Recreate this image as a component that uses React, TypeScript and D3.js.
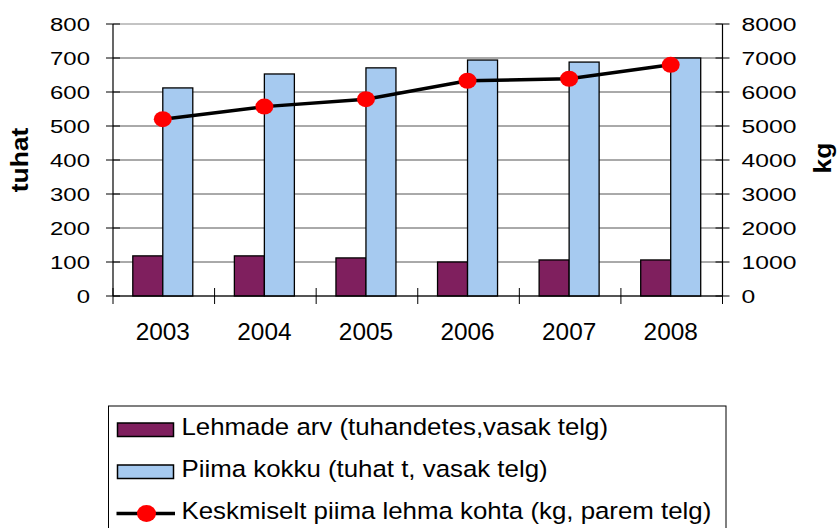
import * as d3 from "d3"

const years = ["2003", "2004", "2005", "2006", "2007", "2008"]
const cows = [118, 118, 112, 100, 106, 106]
const milkTotal = [612, 653, 671, 694, 688, 700]
const milkPerCow = [5200, 5570, 5790, 6330, 6390, 6800]
const leftTicks = [0, 100, 200, 300, 400, 500, 600, 700, 800]
const rightTicks = [0, 1000, 2000, 3000, 4000, 5000, 6000, 7000, 8000]

const legendLabels = [
  "Lehmade arv (tuhandetes,vasak telg)",
  "Piima kokku (tuhat t, vasak telg)",
  "Keskmiselt piima lehma kohta (kg, parem telg)",
]

const PURPLE = "#7f1f5e"
const BLUE = "#a6caf0"
const FONT = "'Liberation Sans', Arial, sans-serif"

// text helper, the source fonts render a bit wider than Liberation Sans
function SText(props: {
  x: number
  y: number
  sx?: number
  size: number
  anchor?: string
  weight?: string
  rotate?: number
  children: string
}) {
  const { x, y, sx = 1, size, anchor = "start", weight = "normal", rotate = 0 } = props
  return (
    <text
      transform={`translate(${x},${y}) rotate(${rotate}) scale(${sx},1)`}
      fontSize={size}
      textAnchor={anchor}
      fontWeight={weight}
      fontFamily={FONT}
      fill="#000"
    >
      {props.children}
    </text>
  )
}

export default function App() {
  const W = 839
  const H = 528
  const left = 113
  const right = 722.5
  const top = 24
  const bottom = 296

  const x = d3.scaleBand<string>().domain(years).range([left, right])
  const yL = d3.scaleLinear().domain([0, 800]).range([bottom, top])
  const yR = d3.scaleLinear().domain([0, 8000]).range([bottom, top])
  const barW = 30
  const center = (yr: string) => (x(yr) || 0) + x.bandwidth() / 2 - 1

  const line = d3
    .line<number>()
    .x((_, i) => center(years[i]))
    .y(d => yR(d))

  const legX = 108.5
  const legY = 406

  return (
    <svg
      width={W}
      height={H}
      style={{ position: "absolute", left: 0, top: 0, background: "#fff" }}
    >
      {/* gridlines */}
      {leftTicks.map(t => (
        <line
          key={"g" + t}
          x1={left}
          x2={right}
          y1={yL(t)}
          y2={yL(t)}
          stroke={t === 800 ? "#888" : "#555"}
          strokeWidth={1}
        />
      ))}

      {/* bars */}
      {years.map((yr, i) => (
        <g key={"b" + yr}>
          <rect
            x={center(yr) - barW}
            y={yL(cows[i])}
            width={barW}
            height={bottom - yL(cows[i])}
            fill={PURPLE}
            stroke="#000"
            strokeWidth={1.3}
          />
          <rect
            x={center(yr)}
            y={yL(milkTotal[i])}
            width={barW}
            height={bottom - yL(milkTotal[i])}
            fill={BLUE}
            stroke="#000"
            strokeWidth={1.3}
          />
        </g>
      ))}

      {/* axes */}
      <line x1={left} x2={left} y1={top} y2={bottom} stroke="#000" strokeWidth={1.2} />
      <line x1={right} x2={right} y1={top} y2={bottom} stroke="#000" strokeWidth={1.2} />
      <line x1={left} x2={right} y1={bottom} y2={bottom} stroke="#000" strokeWidth={1.2} />
      {leftTicks.map(t => (
        <g key={"lt" + t}>
          <line x1={left - 7} x2={left + 7} y1={yL(t)} y2={yL(t)} stroke="#000" strokeWidth={1} />
          <SText x={90} y={yL(t) + 7} size={19} sx={1.26} anchor="end">
            {String(t)}
          </SText>
        </g>
      ))}
      {rightTicks.map(t => (
        <g key={"rt" + t}>
          <line x1={right - 7} x2={right + 7} y1={yR(t)} y2={yR(t)} stroke="#000" strokeWidth={1} />
          <SText x={741.5} y={yR(t) + 7} size={19} sx={1.3}>
            {String(t)}
          </SText>
        </g>
      ))}
      {[...years.map(yr => x(yr) || 0), right].map((v, i) => (
        <line key={"xt" + i} x1={v} x2={v} y1={bottom - 8} y2={bottom + 8} stroke="#000" strokeWidth={1} />
      ))}
      {years.map(yr => (
        <SText key={"xl" + yr} x={center(yr)} y={340} size={23} sx={1.06} anchor="middle">
          {yr}
        </SText>
      ))}

      {/* axis titles */}
      <SText x={28} y={160} size={23} sx={1.15} anchor="middle" weight="bold" rotate={-90}>
        tuhat
      </SText>
      <SText x={831} y={158} size={23} sx={1.15} anchor="middle" weight="bold" rotate={-90}>
        kg
      </SText>

      {/* line series */}
      <path d={line(milkPerCow) || ""} fill="none" stroke="#000" strokeWidth={3.5} />
      {milkPerCow.map((v, i) => (
        <ellipse key={"m" + i} cx={center(years[i])} cy={yR(v)} rx={9} ry={8} fill="#ff0000" />
      ))}

      {/* legend */}
      <rect x={legX} y={legY} width={726 - legX} height={140} fill="#fff" stroke="#000" strokeWidth={1} />
      <rect x={117.5} y={423} width={56} height={13.5} fill={PURPLE} stroke="#000" strokeWidth={1.5} />
      <rect x={117.5} y={465} width={56} height={13.5} fill={BLUE} stroke="#000" strokeWidth={1.5} />
      <line x1={116.5} x2={175} y1={513.5} y2={513.5} stroke="#000" strokeWidth={3.5} />
      <ellipse cx={146.5} cy={513.5} rx={9.5} ry={8.5} fill="#ff0000" />
      {legendLabels.map((t, i) => (
        <SText key={"lg" + i} x={181.5} y={435 + i * 42} size={23.5} sx={1.1}>
          {t}
        </SText>
      ))}
    </svg>
  )
}
